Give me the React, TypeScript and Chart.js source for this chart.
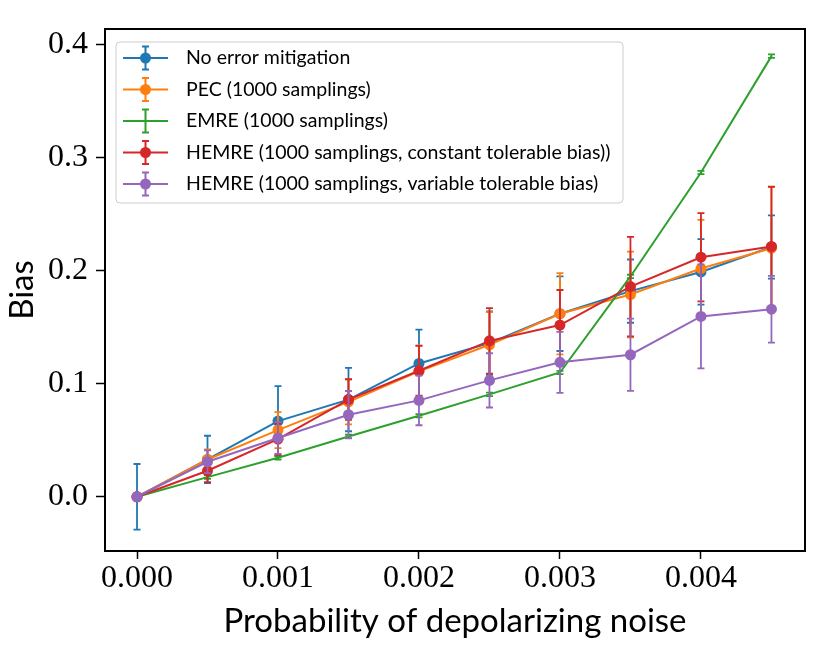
import React, { useEffect, useRef } from "react";
import { Chart, registerables, ChartConfiguration, Plugin } from "chart.js";

Chart.register(...registerables);

// probability of depolarizing noise (x)
const noise = [0, 0.0005, 0.001, 0.0015, 0.002, 0.0025, 0.003, 0.0035, 0.004, 0.0045];

// bias values and error bar half-widths
const noMitigation = [0, 0.033, 0.067, 0.086, 0.118, 0.136, 0.162, 0.182, 0.199, 0.221];
const noMitigationErr = [0.029, 0.021, 0.031, 0.028, 0.03, 0.028, 0.033, 0.028, 0.029, 0.028];

const pec = [0, 0.033, 0.059, 0.084, 0.111, 0.1345, 0.162, 0.179, 0.202, 0.22];
const pecErr = [0, 0.009, 0.016, 0.02, 0.023, 0.029, 0.036, 0.038, 0.043, 0.054];

const emre = [0, 0.0174, 0.0345, 0.0534, 0.0717, 0.0906, 0.11, 0.195, 0.287, 0.39];
const emreErr = [0, 0.0015, 0.0015, 0.0015, 0.0015, 0.0015, 0.0015, 0.0015, 0.0015, 0.0015];

const hemreConst = [0, 0.023, 0.051, 0.086, 0.1115, 0.138, 0.152, 0.186, 0.212, 0.2215];
const hemreConstErr = [0, 0.01, 0.014, 0.018, 0.022, 0.029, 0.031, 0.044, 0.039, 0.053];

const hemreVar = [0, 0.031, 0.052, 0.0726, 0.0853, 0.103, 0.119, 0.1257, 0.1596, 0.166];
const hemreVarErr = [0, 0.01, 0.014, 0.021, 0.022, 0.024, 0.027, 0.032, 0.046, 0.0295];

const labels = [
  "No error mitigation",
  "PEC (1000 samplings)",
  "EMRE (1000 samplings)",
  "HEMRE (1000 samplings, constant tolerable bias))",
  "HEMRE (1000 samplings, variable tolerable bias)",
];
const colors = ["#1f77b4", "#ff7f0e", "#2ca02c", "#d62728", "#9467bd"];
const values = [noMitigation, pec, emre, hemreConst, hemreVar];
const errors = [noMitigationErr, pecErr, emreErr, hemreConstErr, hemreVarErr];
const hasMarker = [true, true, false, true, true];

const xTicks = [0, 0.001, 0.002, 0.003, 0.004];
const yTicks = [0, 0.1, 0.2, 0.3, 0.4];

const SERIF = "'Liberation Serif', 'DejaVu Serif', serif";
const SANS = "Lato, 'DejaVu Sans', sans-serif";

// matplotlib style error bars, drawn under each dataset's line
const errorBarPlugin: Plugin<"line"> = {
  id: "errorBars",
  beforeDatasetDraw(chart, args) {
    const ds: any = chart.data.datasets[args.index];
    const errs: number[] = ds.errors;
    if (!errs) return;
    const xs = chart.scales.x;
    const ys = chart.scales.y;
    const ctx = chart.ctx;
    ctx.save();
    ctx.strokeStyle = ds.borderColor;
    ctx.lineWidth = 1.8;
    ds.data.forEach((p: { x: number; y: number }, i: number) => {
      const e = errs[i];
      if (!e) return;
      const px = xs.getPixelForValue(p.x);
      const top = ys.getPixelForValue(p.y + e);
      const bot = ys.getPixelForValue(p.y - e);
      ctx.beginPath();
      ctx.moveTo(px, top);
      ctx.lineTo(px, bot);
      ctx.moveTo(px - 3.5, top);
      ctx.lineTo(px + 3.5, top);
      ctx.moveTo(px - 3.5, bot);
      ctx.lineTo(px + 3.5, bot);
      ctx.stroke();
    });
    ctx.restore();
  },
};

// axes frame on all four sides
const framePlugin: Plugin<"line"> = {
  id: "frame",
  afterDatasetsDraw(chart) {
    const { left, top, right, bottom } = chart.chartArea;
    const ctx = chart.ctx;
    ctx.save();
    ctx.strokeStyle = "#000";
    ctx.lineWidth = 2;
    ctx.strokeRect(left, top, right - left, bottom - top);
    ctx.restore();
  },
};

// legend box with errorbar handles
const legendPlugin: Plugin<"line"> = {
  id: "mplLegend",
  afterDraw(chart) {
    const ctx = chart.ctx;
    const bx = 116, by = 42, bw = 507, bh = 161, r = 4;
    ctx.save();
    ctx.beginPath();
    ctx.roundRect(bx, by, bw, bh, r);
    ctx.fillStyle = "rgba(255,255,255,0.8)";
    ctx.fill();
    ctx.strokeStyle = "#cccccc";
    ctx.lineWidth = 1;
    ctx.stroke();

    labels.forEach((label, i) => {
      const cy = 58 + i * 31.5;
      const color = colors[i];
      ctx.strokeStyle = color;
      ctx.lineWidth = 2;
      ctx.beginPath();
      ctx.moveTo(123, cy);
      ctx.lineTo(168, cy);
      ctx.moveTo(145.5, cy - 11.5);
      ctx.lineTo(145.5, cy + 11.5);
      ctx.moveTo(142, cy - 11.5);
      ctx.lineTo(149, cy - 11.5);
      ctx.moveTo(142, cy + 11.5);
      ctx.lineTo(149, cy + 11.5);
      ctx.stroke();
      if (hasMarker[i]) {
        ctx.fillStyle = color;
        ctx.beginPath();
        ctx.arc(145.5, cy, 5.5, 0, Math.PI * 2);
        ctx.fill();
      }
      ctx.fillStyle = "#000";
      ctx.font = `19.5px ${SANS}`;
      ctx.textBaseline = "middle";
      ctx.textAlign = "left";
      ctx.fillText(label, 186, cy);
    });
    ctx.restore();
  },
};

const App = () => {
  const chartRef = useRef<HTMLCanvasElement | null>(null);
  const chartInstanceRef = useRef<Chart<"line", { x: number; y: number }[]> | null>(null);

  useEffect(() => {
    const ctx = chartRef.current?.getContext("2d");
    if (chartInstanceRef.current) {
      chartInstanceRef.current.destroy();
    }
    if (!ctx) return;

    const datasets = labels.map((label, i) => ({
      label,
      data: noise.map((x, j) => ({ x, y: values[i][j] })),
      errors: errors[i],
      borderColor: colors[i],
      backgroundColor: colors[i],
      borderWidth: 2,
      pointRadius: hasMarker[i] ? 5.5 : 0,
      pointBorderWidth: 0,
      pointBackgroundColor: colors[i],
      tension: 0,
      order: labels.length - i, // later series drawn on top, like matplotlib
    }));

    const config: ChartConfiguration<"line", { x: number; y: number }[]> = {
      type: "line",
      data: { datasets: datasets as any },
      options: {
        animation: false,
        responsive: true,
        maintainAspectRatio: false,
        layout: { padding: { top: 29, right: 25, left: 0, bottom: 0 } },
        plugins: {
          legend: { display: false },
          tooltip: { enabled: false },
        },
        scales: {
          x: {
            type: "linear",
            min: -0.000227,
            max: 0.004738,
            afterFit: (scale) => {
              scale.height = 102;
            },
            afterBuildTicks: (scale) => {
              scale.ticks = xTicks.map((v) => ({ value: v }));
            },
            grid: {
              drawOnChartArea: false,
              drawTicks: true,
              tickLength: 8,
              tickWidth: 1.5,
              tickColor: "#000",
            },
            border: { display: false },
            ticks: {
              color: "#000",
              padding: 0,
              maxRotation: 0,
              autoSkip: false,
              font: { family: SERIF, size: 32, lineHeight: 1.2 },
              callback: (v) => Number(v).toFixed(3),
            },
            title: {
              display: true,
              text: "Probability of depolarizing noise",
              color: "#000",
              font: { family: SANS, size: 33, lineHeight: 1.2 },
              padding: { top: 0, bottom: 12 },
            },
          },
          y: {
            type: "linear",
            min: -0.048,
            max: 0.414,
            afterFit: (scale) => {
              scale.width = 105;
            },
            afterBuildTicks: (scale) => {
              scale.ticks = yTicks.map((v) => ({ value: v }));
            },
            grid: {
              drawOnChartArea: false,
              drawTicks: true,
              tickLength: 9,
              tickWidth: 1.5,
              tickColor: "#000",
            },
            border: { display: false },
            ticks: {
              color: "#000",
              padding: 8,
              autoSkip: false,
              font: { family: SERIF, size: 32, lineHeight: 1.2 },
              callback: (v) => Number(v).toFixed(1),
            },
            title: {
              display: true,
              text: "Bias",
              color: "#000",
              font: { family: SANS, size: 33, lineHeight: 1.2 },
              padding: { top: 3, bottom: 0 },
            },
          },
        },
      },
      plugins: [errorBarPlugin, framePlugin, legendPlugin],
    };

    chartInstanceRef.current = new Chart(ctx, config);

    return () => {
      if (chartInstanceRef.current) {
        chartInstanceRef.current.destroy();
        chartInstanceRef.current = null;
      }
    };
  }, []);

  return (
    <div
      style={{
        position: "absolute",
        left: 0,
        top: 0,
        width: 830,
        height: 653,
        background: "#fff",
      }}
    >
      <canvas ref={chartRef} />
    </div>
  );
};

export default App;
